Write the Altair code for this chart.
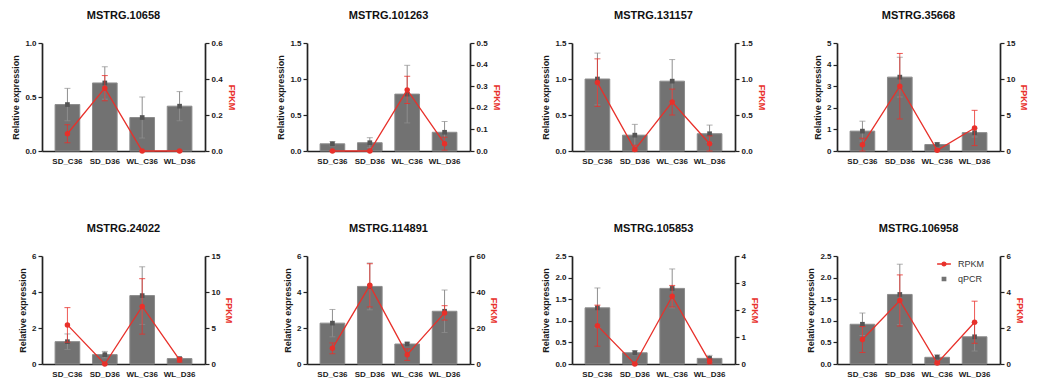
import altair as alt
import pandas as pd

cats = ["SD_C36", "SD_D36", "WL_C36", "WL_D36"]
genes = ["MSTRG.10658", "MSTRG.101263", "MSTRG.131157", "MSTRG.35668",
         "MSTRG.24022", "MSTRG.114891", "MSTRG.105853", "MSTRG.106958"]

qpcr_mean = [
    [0.43, 0.63, 0.31, 0.415],
    [0.10, 0.115, 0.79, 0.26],
    [1.00, 0.22, 0.97, 0.24],
    [0.92, 3.42, 0.30, 0.85],
    [1.24, 0.52, 3.80, 0.30],
    [2.27, 4.31, 1.11, 2.93],
    [1.30, 0.26, 1.75, 0.13],
    [0.92, 1.61, 0.155, 0.63],
]
qpcr_sd = [
    [0.15, 0.15, 0.19, 0.135],
    [0.03, 0.07, 0.40, 0.15],
    [0.36, 0.15, 0.30, 0.12],
    [0.46, 0.92, 0.08, 0.20],
    [0.43, 0.18, 1.60, 0.05],
    [0.76, 1.30, 0.10, 1.18],
    [0.46, 0.05, 0.45, 0.07],
    [0.26, 0.70, 0.06, 0.33],
]
fpkm_mean = [
    [0.096, 0.349, 0.0, 0.0],
    [0.0, 0.0, 0.283, 0.034],
    [0.95, 0.02, 0.68, 0.10],
    [0.88, 9.0, 0.10, 3.2],
    [5.43, 0.0, 8.0, 0.56],
    [8.7, 43.7, 5.2, 28.4],
    [1.42, 0.0, 2.51, 0.09],
    [1.36, 3.53, 0.05, 2.32],
]
fpkm_sd = [
    [0.05, 0.07, 0.0, 0.0],
    [0.0, 0.0, 0.063, 0.03],
    [0.33, 0.06, 0.18, 0.11],
    [0.9, 4.55, 0.1, 2.45],
    [2.4, 0.0, 3.85, 0.3],
    [3.0, 12.0, 3.2, 4.0],
    [0.76, 0.0, 0.4, 0.1],
    [0.72, 1.42, 0.05, 1.17],
]
left_max = [1.0, 1.5, 1.5, 5, 6, 6, 2.5, 2.5]
left_ticks = [
    [0, 0.5, 1.0], [0, 0.5, 1.0, 1.5], [0, 0.5, 1.0, 1.5], [0, 1, 2, 3, 4, 5],
    [0, 2, 4, 6], [0, 2, 4, 6], [0, 0.5, 1.0, 1.5, 2.0, 2.5], [0, 0.5, 1.0, 1.5, 2.0, 2.5],
]
left_fmt = [".1f", ".1f", ".1f", "d", "d", "d", ".1f", ".1f"]
right_max = [0.6, 0.5, 1.5, 15, 15, 60, 4, 6]
right_ticks = [
    [0, 0.2, 0.4, 0.6], [0, 0.1, 0.2, 0.3, 0.4, 0.5], [0, 0.5, 1.0, 1.5], [0, 5, 10, 15],
    [0, 5, 10, 15], [0, 20, 40, 60], [0, 1, 2, 3, 4], [0, 2, 4, 6],
]
right_fmt = [".1f", ".1f", ".1f", "d", "d", "d", "d", "d"]
legend_labels = ["RPKM", "qPCR"]

RED = "#e8302a"
BARFILL = "#727272"
BARSTROKE = "#8c8c8c"
ERRGRAY = "#8e8e8e"
FONT = "Liberation Sans"
W, H = 163, 108


def panel(i):
    df = pd.DataFrame({"cat": cats, "q": qpcr_mean[i], "qsd": qpcr_sd[i],
                       "f": fpkm_mean[i], "fsd": fpkm_sd[i]})
    df["qlo"] = (df["q"] - df["qsd"]).clip(lower=0)
    df["qhi"] = df["q"] + df["qsd"]
    df["flo"] = (df["f"] - df["fsd"]).clip(lower=0)
    df["fhi"] = df["f"] + df["fsd"]
    base = alt.Chart(df)

    x = alt.X("cat:N", sort=cats,
              scale=alt.Scale(paddingInner=0.34, paddingOuter=0.35),
              axis=alt.Axis(title=None, labelAngle=0, ticks=False, labelPadding=6))

    lscale = alt.Scale(domain=[0, left_max[i]], nice=False, zero=True)
    laxis = alt.Axis(title="Relative expression", values=left_ticks[i],
                     format=left_fmt[i], orient="left", titlePadding=4)

    def ly(f):
        return alt.Y(f + ":Q", scale=lscale, axis=laxis)

    rscale = alt.Scale(domain=[0, right_max[i]], nice=False, zero=True)
    raxis = alt.Axis(title="FPKM", values=right_ticks[i], format=right_fmt[i],
                     orient="right", titleColor=RED, titlePadding=4)

    def ry(f):
        return alt.Y(f + ":Q", scale=rscale, axis=raxis)

    bars = base.mark_bar(color=BARFILL, stroke=BARSTROKE, strokeWidth=1).encode(x=x, y=ly("q"))
    qrule = base.mark_rule(color=ERRGRAY, strokeWidth=1).encode(x=x, y=ly("qlo"), y2="qhi")
    qcap1 = base.mark_tick(color=ERRGRAY, size=6, thickness=1).encode(x=x, y=ly("qlo"))
    qcap2 = base.mark_tick(color=ERRGRAY, size=6, thickness=1).encode(x=x, y=ly("qhi"))
    qsq = base.mark_point(shape="square", filled=True, size=22, color="#555555",
                          opacity=1).encode(x=x, y=ly("q"))
    left = alt.layer(bars, qrule, qcap1, qcap2, qsq)

    frule = base.mark_rule(color=RED, strokeWidth=1, opacity=0.8).encode(x=x, y=ry("flo"), y2="fhi")
    fcap1 = base.mark_tick(color=RED, size=6, thickness=1, opacity=0.8).encode(x=x, y=ry("flo"))
    fcap2 = base.mark_tick(color=RED, size=6, thickness=1, opacity=0.8).encode(x=x, y=ry("fhi"))
    fline = base.mark_line(color=RED, strokeWidth=1.3).encode(x=x, y=ry("f"))
    fpts = base.mark_point(shape="circle", filled=True, size=30, color=RED,
                           opacity=1).encode(x=x, y=ry("f"))
    rlayers = [frule, fcap1, fcap2, fline, fpts]

    if i == 7:
        leg_df = pd.DataFrame({"cat": ["SD_C36", "SD_C36"], "s": legend_labels,
                               "v": [None, None]})
        leg = alt.Legend(title=None, orient="none", legendX=99, legendY=0,
                         labelFont=FONT, labelFontSize=9, labelColor="#333333",
                         symbolStrokeWidth=1.3, rowPadding=2, labelOffset=6,
                         symbolSize=190)
        dom = legend_labels
        lg = alt.Chart(leg_df).mark_point(filled=True, opacity=1).encode(
            x=x, y=ry("v"),
            color=alt.Color("s:N", scale=alt.Scale(domain=dom, range=[RED, BARFILL]), legend=leg),
            stroke=alt.Stroke("s:N", scale=alt.Scale(domain=dom, range=[RED, BARFILL]), legend=leg),
            shape=alt.Shape("s:N", scale=alt.Scale(domain=dom, range=[
                "M-1,0L1,0M-0.28,0A0.28,0.28,0,1,0,0.28,0A0.28,0.28,0,1,0,-0.28,0Z",
                "M-0.25,-0.25L0.25,-0.25L0.25,0.25L-0.25,0.25Z"]), legend=leg),
        )
        rlayers.append(lg)
    right = alt.layer(*rlayers)

    return alt.layer(left, right).resolve_scale(y="independent").properties(
        width=W, height=H,
        title=alt.TitleParams(genes[i], font=FONT, fontSize=11, fontWeight="bold",
                              anchor="middle", offset=18, color="#111111"),
    )


chart = alt.concat(
    *[panel(i) for i in range(8)], columns=4,
    spacing=alt.RowColnumber(row=105, column=102), bounds="flush",
).resolve_scale(
    color="independent", stroke="independent", shape="independent"
).resolve_legend(
    color="independent", stroke="independent", shape="independent"
).properties(
    padding={"left": 3, "top": 2, "right": 0, "bottom": 0}
).configure_axis(
    labelFont=FONT, labelFontSize=8, labelFontWeight="bold", labelColor="#1a1a1a",
    titleFont=FONT, titleFontSize=9, titleFontWeight="bold", titleColor="#1a1a1a",
    domainColor="#222222", domainWidth=1.7, tickColor="#222222", tickWidth=1.2,
    tickSize=4, grid=False, labelPadding=2,
).configure_view(stroke=None)

chart.save("out.html", embed_options={"renderer": "svg", "actions": False})
